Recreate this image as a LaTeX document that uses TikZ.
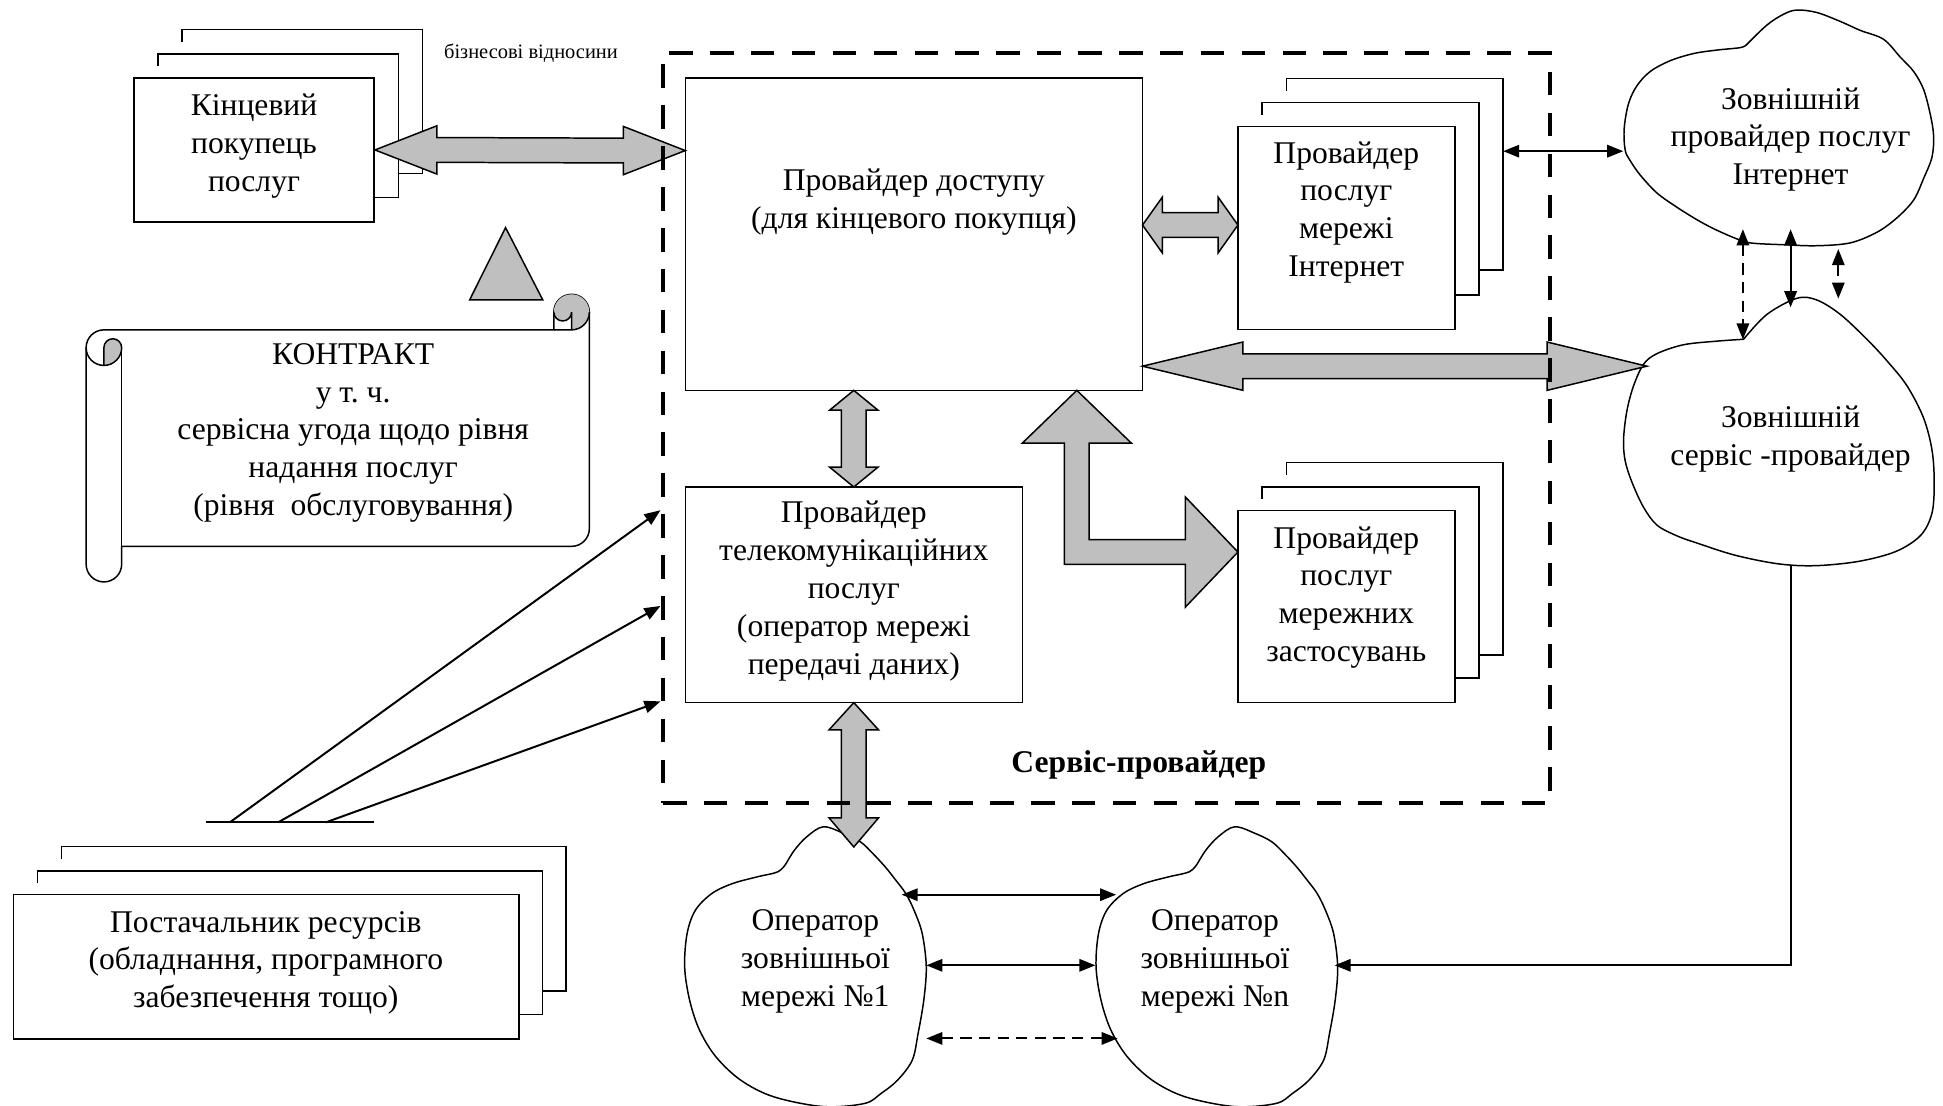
\documentclass[tikz,border=0pt]{standalone}
\usepackage{fontspec}
\setmainfont{Liberation Serif}
\usetikzlibrary{arrows.meta,calc}
\newcommand\txtbig{\fontsize{25.5pt}{30.5pt}\selectfont}
\newcommand\txtsmall{\fontsize{16.5pt}{19pt}\selectfont}
\newcommand\shw{10pt}
\colorlet{blockgray}{black!25}
% horizontal double block arrow: left tip, right tip, left head length, right head length, head half-width
\newcommand\hbiarrow[5]{%
  \filldraw[blockarrow] let \p1=(#1), \p2=(#2) in
    (\x1,\y1) -- (\x1+#3,\y1+#5) -- (\x1+#3,\y1+\shw) -- (\x2-#4,\y2+\shw)
    -- (\x2-#4,\y2+#5) -- (\x2,\y2) -- (\x2-#4,\y2-#5) -- (\x2-#4,\y2-\shw)
    -- (\x1+#3,\y1-\shw) -- (\x1+#3,\y1-#5) -- cycle;}
% vertical double block arrow: top tip, bottom tip, top head length, bottom head length, head half-width
\newcommand\vbiarrow[5]{%
  \filldraw[blockarrow] let \p1=(#1), \p2=(#2) in
    (\x1,\y1) -- (\x1+#5,\y1-#3) -- (\x1+\shw,\y1-#3) -- (\x2+\shw,\y2+#4)
    -- (\x2+#5,\y2+#4) -- (\x2,\y2) -- (\x2-#5,\y2+#4) -- (\x2-\shw,\y2+#4)
    -- (\x1-\shw,\y1-#3) -- (\x1-#5,\y1-#3) -- cycle;}
\frenchspacing
\begin{document}
\begin{tikzpicture}[x=1pt,y=-1pt,
  >={Triangle[length=13pt,width=10pt]},
  boxline/.style={draw=black, line width=1.2pt},
  frontbox/.style={boxline, fill=white, inner sep=0pt},
  txt/.style={font=\txtbig, align=center, inner sep=0pt},
  blockarrow/.style={fill=blockgray, draw=black, line width=1.2pt, line join=miter},
  biarrow/.style={line width=1.6pt, <->},
  onearrow/.style={line width=1.6pt, ->},
  dashline/.style={dash pattern=on 9pt off 6pt},
  cloudline/.style={draw=black, line width=1.2pt, fill=white, line join=round},
  frame/.style={draw=black, line width=3.4pt, dash pattern=on 19pt off 14pt, inner sep=0pt},
]
\useasboundingbox (0,0) rectangle (1568,892);
\fill[white] (0,0) rectangle (1568,892);

% ---- end buyer (stack of three sheets)
\draw[boxline] (147,34) -- (147,24) -- (341,24) -- (341,140) -- (321.5,140);
\draw[boxline] (127.5,53.5) -- (127.5,43.5) -- (321.5,43.5) -- (321.5,159.5) -- (302,159.5);
\node[frontbox, minimum width=194pt, minimum height=116pt] (buyer) at (205,121) {};
\node[txt] (buyertxt) at (205,118) {Кінцевий\\покупець\\послуг};

% ---- access provider
\node[frontbox, minimum width=369pt, minimum height=252pt] (access) at (737.5,189) {};
\node[txt] (acctxt) at (737.5,163) {Провайдер доступу\\(для кінцевого покупця)};

% ---- internet service provider (stack)
\draw[boxline] (1038,73.2) -- (1038,63.2) -- (1213,63.2) -- (1213,218) -- (1193.5,218);
\draw[boxline] (1018.5,92.6) -- (1018.5,82.6) -- (1193.5,82.6) -- (1193.5,238) -- (1174,238);
\node[frontbox, minimum width=175pt, minimum height=164pt] (inet) at (1086.5,184) {};
\node[txt] (inettxt) at (1086.5,171.3) {Провайдер\\послуг\\мережі\\Інтернет};

% ---- telecom provider
\node[frontbox, minimum width=272pt, minimum height=174pt] (telecom) at (689,480) {};
\node[txt] (teltxt) at (689,477) {Провайдер\\телекомунікаційних\\послуг\\(оператор мережі\\передачі даних)};

% ---- network applications provider (stack)
\draw[boxline] (1038,383.4) -- (1038,373.4) -- (1213,373.4) -- (1213,528.6) -- (1193.5,528.6);
\draw[boxline] (1018.5,403) -- (1018.5,393) -- (1193.5,393) -- (1193.5,547) -- (1174,547);
\node[frontbox, minimum width=175pt, minimum height=155pt] (apps) at (1086.5,489.5) {};
\node[txt] (apptxt) at (1086.5,482) {Провайдер\\послуг\\мережних\\застосувань};

% ---- resource supplier (stack)
\draw[boxline] (49.7,693.3) -- (49.7,683.3) -- (456.9,683.3) -- (456.9,799.6) -- (437.8,799.6);
\draw[boxline] (30.3,712.7) -- (30.3,702.7) -- (437.8,702.7) -- (437.8,818.6) -- (418.7,818.6);
\node[frontbox, minimum width=408pt, minimum height=116.5pt] (supplier) at (214.75,780.05) {};
\node[txt] (suptxt) at (214.5,777) {Постачальник ресурсів\\(обладнання, програмного\\забезпечення тощо)};

% ---- triangle
\filldraw[blockarrow] (408,183.7) -- (438,242) -- (379,242) -- cycle;

% ---- contract scroll
\filldraw[boxline, fill=white]
  (69.5,280.55) arc[start angle=180, delta angle=-90, radius=14.35pt]
  -- (446.9,266.2) -- (446.9,251.85) arc[start angle=180, delta angle=-180, radius=14.35pt]
  -- (475.6,426.55) arc[start angle=0, delta angle=-90, radius=14.35pt]
  -- (98.2,440.9) -- (98.2,455.25) arc[start angle=0, delta angle=-180, radius=14.35pt]
  -- cycle;
\fill[blockgray] (83.85,294.9) arc[start angle=-90, delta angle=90, radius=14.35pt]
  arc[start angle=0, delta angle=180, radius=7.175pt] -- cycle;
\fill[blockgray] (461.25,266.2) arc[start angle=-90, delta angle=270, radius=14.35pt]
  arc[start angle=180, delta angle=180, radius=7.175pt] -- cycle;
\draw[boxline] (446.9,266.2) -- (461.25,266.2) arc[start angle=-90, delta angle=90, radius=14.35pt];
\draw[boxline] (461.25,266.2) -- (461.25,251.85) arc[start angle=0, delta angle=-180, radius=7.175pt];
\draw[boxline] (83.85,294.9) -- (83.85,280.55) arc[start angle=180, delta angle=-180, radius=7.175pt]
  arc[start angle=0, delta angle=-180, radius=14.35pt];
\draw[boxline] (98.2,280.55) -- (98.2,440.9);
\node[txt] (contxt) at (285,349.3) {КОНТРАКТ\\у т. ч.\\сервісна угода щодо рівня\\надання послуг\\(рівня\ \ обслуговування)};

% ---- clouds
\draw[cloudline] plot[smooth, tension=0.55] coordinates {
  (1409,36.5) (1425.9,20.2) (1439.3,11.5) (1450.1,8.1) (1466.2,10.1) (1485.1,17.3)
  (1501.2,24.5) (1520.0,31.7) (1533.5,46.1) (1544.3,57.7) (1552.3,72.1) (1557.7,92.2)
  (1560.4,109.5) (1559.1,126.8) (1552.3,144.1) (1544.3,161.4) (1530.8,175.8) (1514.7,187.4)
  (1493.1,196.0) (1466.2,198.3) (1439.3,197.5) (1412.4,196.0) (1399.0,191.7) (1382.8,184.5)
  (1369.4,177.3) (1353.2,167.2) (1337.1,155.7) (1323.6,141.2) (1315.6,129.7) (1311.5,121.1)
  (1310.7,103.8) (1314.2,83.6) (1321.0,69.2) (1331.7,57.7) (1347.8,49.0) (1366.7,43.2)
  (1385.5,40.4) (1404,38.5) (1409,36.5)} -- cycle;
\node[txt] (inetc) at (1445,112.5) {Зовнішній\\провайдер послуг\\Інтернет};

\draw[cloudline] plot[smooth, tension=0.55] coordinates {
  (1407,273.8) (1425.9,253.7) (1450.1,240.7) (1466.2,242.1) (1485.1,253.7) (1506.6,273.8)
  (1522.7,291.1) (1538.9,311.3) (1552.3,337.3) (1559.1,363.2) (1560.9,389.2) (1559.1,414)
  (1550,432) (1530,445) (1500,453) (1465,456.5) (1435,455) (1400,448) (1369.4,438.2)
  (1353.2,432.4) (1337.1,423.7) (1326.3,409.3) (1317.0,389.2) (1311.5,371.9) (1310.2,354.6)
  (1312.9,331.5) (1318.3,311.3) (1326.3,294.0) (1337.1,285.4) (1358.6,278.2) (1385.5,275.3)
  (1407,273.8)} -- cycle;
\node[txt] (servc) at (1445,354.5) {Зовнішній\\сервіс -провайдер};

\foreach \dx in {0,332}{
\draw[cloudline, shift={(\dx,0)}] plot[smooth, tension=0.55] coordinates {
  (634.4,696.8) (641.1,686.1) (651.0,675.3) (664.4,667.2) (681.0,672.6) (694.3,679.3)
  (704.3,688.7) (714.3,699.5) (722.9,710.3) (730.9,721.0) (737.6,734.5) (744.2,753.3)
  (747.5,780.2) (745.5,807.1) (740.9,834.0) (736.2,855.5) (724.3,871.7) (711.0,882.4)
  (697.6,890.5) (664.4,893) (624.4,885.1) (597.8,871.7) (577.8,852.9) (564.5,831.3)
  (556.5,807.1) (552.5,780.2) (554.5,753.3) (561.2,734.5) (574.5,721.0) (591.2,713.0)
  (611.1,707.6) (627.8,703.5) (634.4,696.8)} -- cycle;
}
\node[txt] (op1) at (658,776) {Оператор\\зовнішньої\\мережі №1};
\node[txt] (opn) at (980.5,776) {Оператор\\зовнішньої\\мережі №n};

% ---- connection points
\coordinate (k2) at (553,121.5);
\coordinate (i1) at (922,181.6);   \coordinate (i2) at (999,181.6);
\coordinate (s1) at (922,295.5);   \coordinate (s2) at (1329,295.5);
\coordinate (v1) at (689,315);     \coordinate (v2) at (689,393);
\coordinate (w1) at (689,567);     \coordinate (w2) at (689,683.5);
\coordinate (lu) at (869,315);     \coordinate (lr) at (999,445.5);
\coordinate (inetb-e) at (1213,122); \coordinate (inetc-w) at (1310,122);
\coordinate (da1) at (1406.5,185); \coordinate (da2) at (1406.5,274);
\coordinate (sa1) at (1445,185);   \coordinate (sa2) at (1445,248);
\coordinate (db1) at (1483.5,201); \coordinate (db2) at (1483.5,241);
\coordinate (b1a) at (727.6,722);  \coordinate (b1b) at (900.7,722);
\coordinate (b2a) at (747.5,779);  \coordinate (b2b) at (884,779);
\coordinate (b3a) at (747.5,838);  \coordinate (b3b) at (902,838);
\coordinate (servc-s) at (1445,456); \coordinate (opn-e) at (1077,779);
\coordinate (fanL) at (166,663.6); \coordinate (fanR) at (302,663.6);
\coordinate (f1) at (185.5,663.6); \coordinate (f2) at (224.5,663.6); \coordinate (f3) at (263,663.6);
\coordinate (t1) at (533,411.7);   \coordinate (t2) at (533,489);     \coordinate (t3) at (533,566);

% ---- block arrows
\hbiarrow{buyer.east}{k2}{50pt}{50pt}{19.5pt}
\hbiarrow{i1}{i2}{16pt}{16pt}{22.5pt}
\hbiarrow{s1}{s2}{81pt}{80.5pt}{19.5pt}
\vbiarrow{v1}{v2}{16pt}{16pt}{19.5pt}
\vbiarrow{w1}{w2}{22pt}{23.5pt}{20pt}
\filldraw[blockarrow] let \p1=(lu), \p2=(lr) in
  (\x1,\y1) -- (\x1+44pt,\y1-42.6pt) -- (\x1+\shw,\y1-42.6pt) -- (\x1+\shw,\y2+\shw)
  -- (\x2-42.5pt,\y2+\shw) -- (\x2-42.5pt,\y2+44.5pt) -- (\x2,\y2)
  -- (\x2-42.5pt,\y2-44.5pt) -- (\x2-42.5pt,\y2-\shw) -- (\x1-\shw,\y2-\shw)
  -- (\x1-\shw,\y1-42.6pt) -- (\x1-44pt,\y1-42.6pt) -- cycle;

% ---- thin connectors
\draw[biarrow] (inetb-e) -- (inetc-w);
\draw[biarrow, dashline] (da1) -- (da2);
\draw[biarrow] (sa1) -- (sa2);
\draw[biarrow, dashline] (db1) -- (db2);
\draw[biarrow] (b1a) -- (b1b);
\draw[biarrow] (b2a) -- (b2b);
\draw[biarrow, dashline] (b3a) -- (b3b);
\draw[onearrow] (servc-s) |- (opn-e);
\draw[line width=1.6pt] (fanL) -- (fanR);
\draw[onearrow] (f1) -- (t1);
\draw[onearrow] (f2) -- (t2);
\draw[onearrow] (f3) -- (t3);

% ---- service provider boundary
\node[frame, minimum width=716pt, minimum height=605pt] (sp) at (893,345.5) {};
\node[txt, font=\txtbig\bfseries] (sptxt) at (919,617) {Сервіс-провайдер};
\node[txt, font=\txtsmall] (biz) at (428.5,43) {бізнесові відносини};
\end{tikzpicture}
\end{document}
